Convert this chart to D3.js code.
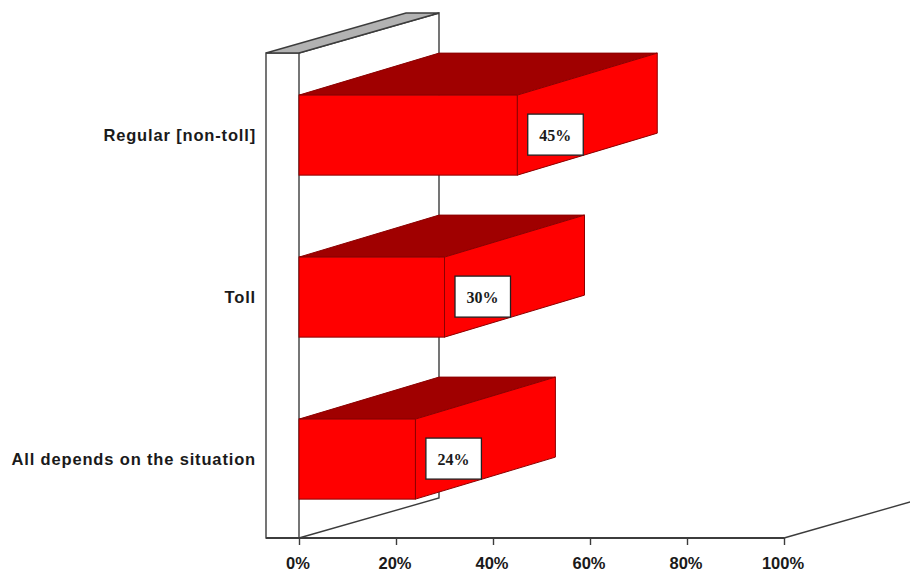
<!DOCTYPE html>
<html>
<head>
<meta charset="utf-8">
<script src="https://cdn.jsdelivr.net/npm/d3@7/dist/d3.min.js"></script>
<style>
html,body{margin:0;padding:0;background:#fff}
svg{display:block}
</style>
</head>
<body>
<svg id="chart" width="910" height="571"></svg>
<script>
const categories = ["Regular [non-toll]", "Toll", "All depends on the situation"];
const shares = [45, 30, 24];
const tickValues = [0, 20, 40, 60, 80, 100];

// Oblique projection of the depth axis
const depthX = 140, wallDepthY = -40, barDepthY = -42;
const wallWidth = 33;

const svg = d3.select("#chart");
const x = d3.scaleLinear().domain([0, 100]).range([299, 784]);
const y = d3.scaleBand().domain(categories).range([53, 538]).paddingInner(0.506).paddingOuter(0.25).align(0.52);
const wallTop = y.range()[0], wallBottom = y.range()[1], x0 = x(0);
const ink = "#3c3c3c", barEdge = "#8c0000";

const poly = pts => pts.map(p => p.join(",")).join(" ");

// Back wall and floor
svg.append("polyline").attr("fill", "#fff").attr("stroke", ink).attr("stroke-width", 1.4)
  .attr("points", poly([[x0, wallTop], [x0 + depthX, wallTop + wallDepthY], [x0 + depthX, wallBottom + wallDepthY], [x0, wallBottom]]));
svg.append("line").attr("stroke", ink).attr("stroke-width", 1.4)
  .attr("x1", x(100)).attr("y1", wallBottom)
  .attr("x2", x(100) + depthX).attr("y2", wallBottom + wallDepthY);

// Side wall with its shaded top face
svg.append("rect").attr("x", x0 - wallWidth).attr("y", wallTop).attr("width", wallWidth).attr("height", wallBottom - wallTop)
  .attr("fill", "#fff").attr("stroke", ink).attr("stroke-width", 1.4);
svg.append("polygon").attr("fill", "#b2b2b2").attr("stroke", ink).attr("stroke-width", 1.4)
  .attr("points", poly([[x0 - wallWidth, wallTop], [x0 - wallWidth + depthX, wallTop + wallDepthY], [x0 + depthX, wallTop + wallDepthY], [x0, wallTop]]));

// Horizontal axis
svg.append("line").attr("x1", x0 - wallWidth).attr("x2", x(100)).attr("y1", wallBottom).attr("y2", wallBottom)
  .attr("stroke", ink).attr("stroke-width", 1.8);
const axis = d3.axisBottom(x).tickValues(tickValues).tickFormat(d => d + "%").tickSize(7).tickPadding(12);
const axisG = svg.append("g").attr("transform", `translate(0,${wallBottom})`).call(axis);
axisG.select(".domain").remove();
axisG.selectAll("line").attr("stroke", ink).attr("stroke-width", 1.4);
axisG.selectAll("text").attr("fill", "#1a1a1a").attr("dx", -1.5)
  .attr("font-family", "'Liberation Sans', Arial, sans-serif").attr("font-weight", "bold").attr("font-size", 16.5);

// Category labels
svg.append("g").selectAll("text").data(categories).join("text")
  .attr("x", 256).attr("y", d => y(d) + y.bandwidth() / 2).attr("dy", "0.36em")
  .attr("text-anchor", "end").attr("fill", "#1a1a1a")
  .attr("font-family", "'Liberation Sans', Arial, sans-serif").attr("font-weight", "bold").attr("font-size", 16.5)
  .attr("letter-spacing", 0.84)
  .text(d => d);

// Bars: top face, end face, front face, value box
const rows = categories.map((c, i) => ({ c, v: shares[i] }));
const bar = svg.append("g").selectAll("g").data(rows).join("g");
const edge = sel => sel.attr("stroke", barEdge).attr("stroke-width", 1);
bar.append("polygon").attr("fill", "#a00000").call(edge).attr("points", d => {
  const t = y(d.c), e = x(d.v);
  return poly([[x0, t], [x0 + depthX, t + barDepthY], [e + depthX, t + barDepthY], [e, t]]);
});
bar.append("polygon").attr("fill", "#ff0000").call(edge).attr("points", d => {
  const t = y(d.c), b = t + y.bandwidth(), e = x(d.v);
  return poly([[e, t], [e + depthX, t + barDepthY], [e + depthX, b + barDepthY], [e, b]]);
});
bar.append("rect").attr("fill", "#ff0000").call(edge)
  .attr("x", x0).attr("y", d => y(d.c)).attr("width", d => x(d.v) - x0).attr("height", y.bandwidth());
bar.append("rect").attr("fill", "#fff").attr("stroke", "#222").attr("stroke-width", 1.3)
  .attr("x", d => x(d.v) + 10.5).attr("y", d => y(d.c) + 19).attr("width", 55.5).attr("height", 41);
bar.append("text").attr("x", d => x(d.v) + 38).attr("y", d => y(d.c) + 40).attr("dy", "0.35em")
  .attr("text-anchor", "middle").attr("fill", "#1a1a1a")
  .attr("font-family", "'Liberation Serif', 'Times New Roman', serif").attr("font-weight", "bold").attr("font-size", 16)
  .text(d => d.v + "%");
</script>
</body>
</html>
